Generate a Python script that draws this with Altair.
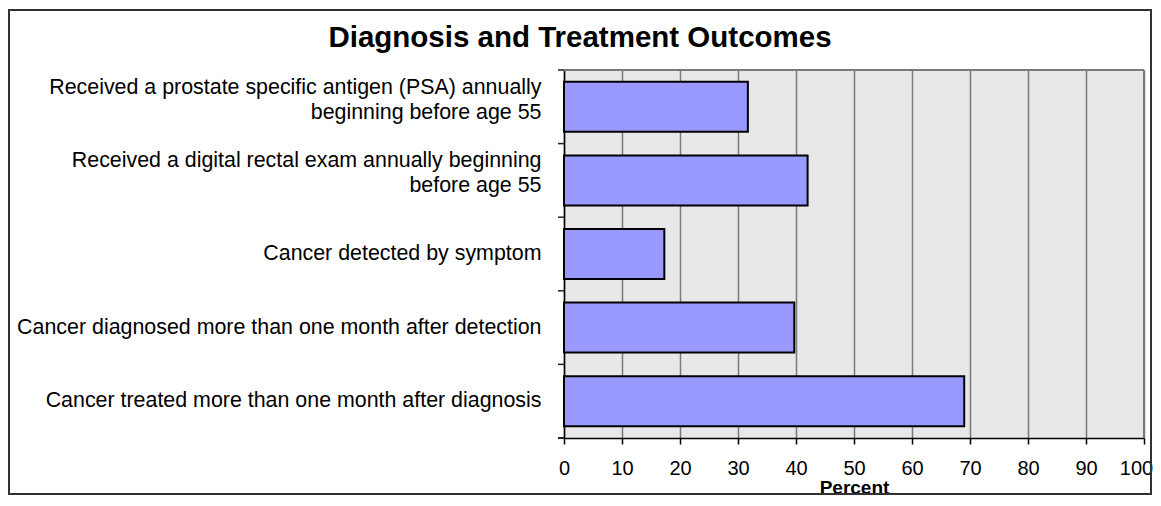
import altair as alt
import pandas as pd

categories = [
    "Received a prostate specific antigen (PSA) annually|beginning before age 55",
    "Received a digital rectal exam annually beginning|before age 55",
    "Cancer detected by symptom",
    "Cancer diagnosed more than one month after detection",
    "Cancer treated more than one month after diagnosis",
]
percent = [31.7, 42.0, 17.3, 39.7, 69.0]
x_ticks = [0, 10, 20, 30, 40, 50, 60, 70, 80, 90, 100]

title_text = "Diagnosis and Treatment Outcomes"
x_title = "Percent"

FONT = "Liberation Sans"
W, H = 580, 368

df = pd.DataFrame({"cat": categories, "value": percent})

y_axis = alt.Axis(
    title=None,
    ticks=False,
    tickSize=0,
    labelPadding=23,
    labelFontSize=21.4,
    labelFont=FONT,
    labelColor="black",
    labelLimit=800,
    labelLineHeight=25,
    labelExpr="split(datum.label, '|')",
    labelOffset={"condition": {"test": "indexof(datum.value, '|') >= 0", "value": -19}, "value": 0},
    domainColor="black",
    domainWidth=1.5,
)
y_scale = alt.Scale(paddingInner=0, paddingOuter=0)

x_enc = alt.X(
    "value:Q",
    scale=alt.Scale(domain=[0, 100], nice=False),
    axis=alt.Axis(
        values=x_ticks,
        grid=True,
        gridColor="#7a7a7a",
        gridWidth=1.5,
        tickColor="black",
        tickSize=6,
        tickWidth=1.5,
        domainColor="black",
        domainWidth=1.5,
        labelFontSize=20,
        labelFont=FONT,
        labelColor="black",
        labelPadding=14,
        labelFlush=False,
        labelOffset={"condition": {"test": "datum.value >= 100", "value": -8}, "value": 0},
        title=x_title,
        titleFont=FONT,
        titleFontSize=19,
        titleFontWeight="bold",
        titleColor="black",
        titleY=49,
        titleBaseline="middle",
    ),
)

bars = alt.Chart(df).mark_bar(
    color="#9999ff", stroke="black", strokeWidth=2, height={"band": 0.68}
).encode(x=x_enc, y=alt.Y("cat:N", sort=categories, scale=y_scale, axis=y_axis))

yticks = alt.Chart(df).mark_rule(color="#222222", strokeWidth=1.5).encode(
    y=alt.Y("cat:N", sort=categories, scale=y_scale, axis=y_axis, bandPosition=0),
    x=alt.value(-6),
    x2=alt.value(0),
)

bottom_tick = alt.Chart(df).mark_rule(color="#222222", strokeWidth=1.5).encode(
    y=alt.value(H), x=alt.value(-6), x2=alt.value(0)
)

top_border = alt.Chart(df).mark_rule(color="#7a7a7a", strokeWidth=2).encode(
    x=alt.value(0), x2=alt.value(W), y=alt.value(0)
)
right_border = alt.Chart(df).mark_rule(color="#7a7a7a", strokeWidth=2).encode(
    x=alt.value(W), y=alt.value(0), y2=alt.value(H)
)

frame = alt.Chart(df).mark_rect(
    filled=False, stroke="#333333", strokeWidth=1.5
).encode(
    x=alt.value(-555), x2=alt.value(587), y=alt.value(-60), y2=alt.value(424)
)

title = alt.Chart(pd.DataFrame({"t": [title_text]})).mark_text(
    font=FONT, fontSize=29.5, fontWeight="bold", color="black",
    align="center", baseline="middle"
).encode(text="t:N", x=alt.value(16), y=alt.value(-32))

chart = alt.layer(
    top_border, right_border, bars, yticks, bottom_tick, frame, title
).properties(
    width=W, height=H,
    autosize=alt.AutoSizeParams(type="none"),
    padding={"left": 556, "top": 62, "right": 9, "bottom": 58},
    background="white",
).configure_view(fill="#e8e8e8", stroke="transparent")

chart.save("out.html", embed_options={"renderer": "svg", "actions": False})
